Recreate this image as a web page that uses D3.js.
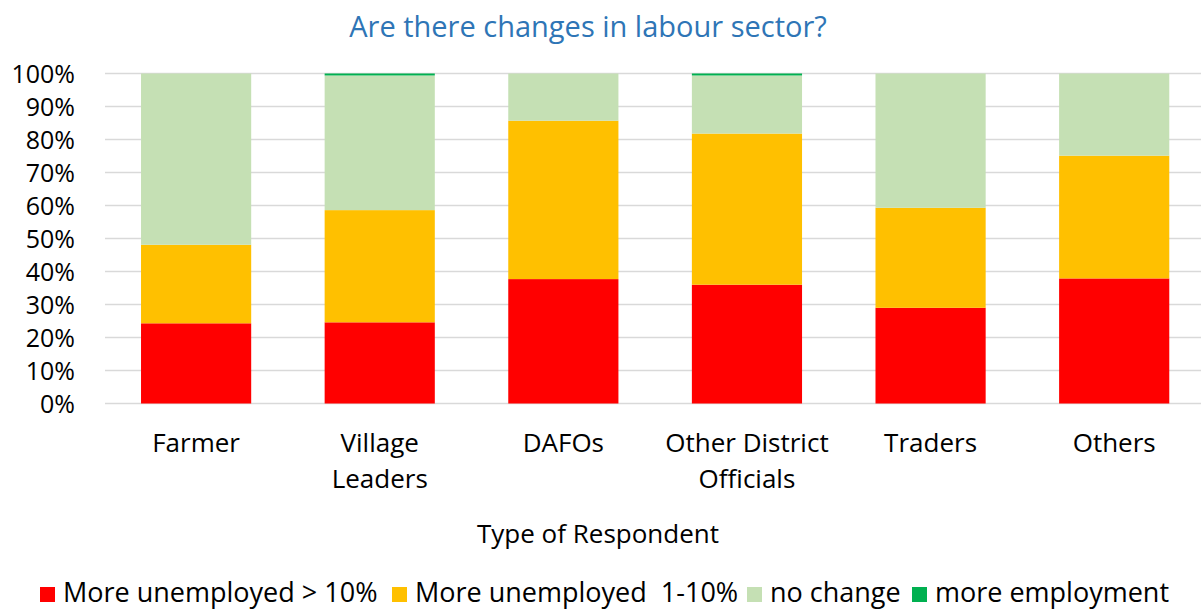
<!DOCTYPE html>
<html><head><meta charset="utf-8">
<script src="https://cdn.jsdelivr.net/npm/d3@7"></script>
<style>body{margin:0;background:#fff;} text{font-family:"Open Sans",sans-serif;}</style>
</head><body><svg id="c" width="1201" height="610"></svg>
<script>
const categories = [["Farmer"],["Village","Leaders"],["DAFOs"],["Other District","Officials"],["Traders"],["Others"]];
const seriesNames = ["More unemployed > 10%","More unemployed  1-10%","no change","more employment"];
const colors = ["#FF0000","#FFC000","#C5E0B4","#00B050"];
const moreUnemployed10 = [24.3,24.6,37.7,36.0,29.0,37.9];
const moreUnemployed1_10 = [23.8,34.0,48.0,45.8,30.3,37.2];
const noChange = [51.9,40.8,14.3,17.6,40.7,24.9];
const moreEmployment = [0,0.6,0,0.6,0,0];
const yTicks = [0,10,20,30,40,50,60,70,80,90,100];

const svg = d3.select("#c");
const keys = categories.map(c=>c.join(" "));
const data = keys.map((k,i)=>({cat:k, s0:moreUnemployed10[i], s1:moreUnemployed1_10[i], s2:noChange[i], s3:moreEmployment[i]}));
const x = d3.scaleBand().domain(keys).range([104.3,1206]).paddingInner(0.4).paddingOuter(0.2);
const y = d3.scaleLinear().domain([0,100]).range([403.5,73.5]);

svg.append("text").attr("x",588).attr("y",37).attr("text-anchor","middle")
  .attr("font-size",29).attr("fill","#2E75B6").text("Are there changes in labour sector?");

const grid = svg.append("g");
grid.selectAll("line").data(yTicks).join("line")
  .attr("x1",105).attr("x2",1201).attr("y1",d=>y(d)).attr("y2",d=>y(d))
  .attr("stroke","#D9D9D9").attr("stroke-width",1.3);

const yAxis = svg.append("g").attr("transform","translate(75,0)")
  .call(d3.axisLeft(y).tickValues(yTicks).tickFormat(d=>d+"%").tickSize(0).tickPadding(0));
yAxis.select(".domain").remove();
yAxis.selectAll("text").attr("font-size",25).attr("fill","#000").attr("font-family","Open Sans").attr("dy","0.35em");

const stack = d3.stack().keys(["s0","s1","s2","s3"]);
const layers = stack(data);
svg.append("g").selectAll("g").data(layers).join("g").attr("fill",(d,i)=>colors[i])
  .selectAll("rect").data(d=>d).join("rect")
  .attr("x",d=>x(d.data.cat)).attr("width",x.bandwidth())
  .attr("y",d=>y(d[1])).attr("height",d=>y(d[0])-y(d[1]));

const xl = svg.append("g");
categories.forEach((c,i)=>{
  const t = xl.append("text").attr("x",x(keys[i])+x.bandwidth()/2).attr("y",452)
    .attr("text-anchor","middle").attr("font-size",26).attr("fill","#000");
  c.forEach((line,j)=>t.append("tspan").attr("x",x(keys[i])+x.bandwidth()/2).attr("dy",j?36:0).text(line));
});

svg.append("text").attr("x",598).attr("y",543).attr("text-anchor","middle")
  .attr("font-size",26).attr("fill","#000").text("Type of Respondent");

const legX = [40,392,747,912];
const lg = svg.append("g");
seriesNames.forEach((n,i)=>{
  lg.append("rect").attr("x",legX[i]).attr("y",587).attr("width",15).attr("height",15).attr("fill",colors[i]);
  lg.append("text").attr("x",legX[i]+23).attr("y",602).attr("font-size",27).attr("fill","#000")
    .style("white-space","pre").text(n);
});
</script></body></html>
